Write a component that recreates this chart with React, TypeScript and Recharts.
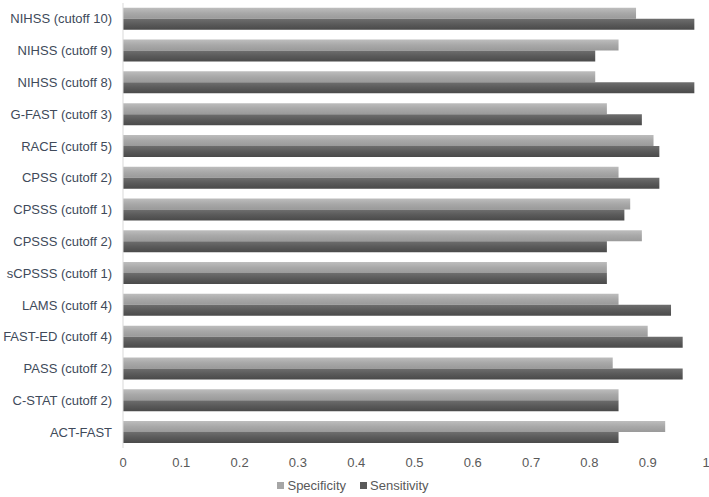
import React from "react";
import { BarChart, Bar, XAxis, YAxis, Legend } from "recharts";

const categories = [
  "NIHSS (cutoff 10)",
  "NIHSS (cutoff 9)",
  "NIHSS (cutoff 8)",
  "G-FAST (cutoff 3)",
  "RACE (cutoff 5)",
  "CPSS (cutoff 2)",
  "CPSSS (cutoff 1)",
  "CPSSS (cutoff 2)",
  "sCPSSS (cutoff 1)",
  "LAMS (cutoff 4)",
  "FAST-ED (cutoff 4)",
  "PASS (cutoff 2)",
  "C-STAT (cutoff 2)",
  "ACT-FAST",
];
const specificity = [0.88, 0.85, 0.81, 0.83, 0.91, 0.85, 0.87, 0.89, 0.83, 0.85, 0.9, 0.84, 0.85, 0.93];
const sensitivity = [0.98, 0.81, 0.98, 0.89, 0.92, 0.92, 0.86, 0.83, 0.83, 0.94, 0.96, 0.96, 0.85, 0.85];
const xTicks = [0, 0.1, 0.2, 0.3, 0.4, 0.5, 0.6, 0.7, 0.8, 0.9, 1];
const seriesNames = ["Specificity", "Sensitivity"];
const seriesColors = ["#a6a6a6", "#595959"];

const data = categories.map((name, i) => ({
  name,
  Specificity: specificity[i],
  Sensitivity: sensitivity[i],
}));

const font = "'Liberation Sans', Arial, sans-serif";

const YTick = (props: any) => {
  const { x, y, payload } = props;
  return (
    <text x={x} y={y} dy="0.35em" textAnchor="end" fill="#404a5a" fontSize={13} fontFamily={font}>
      {payload.value}
    </text>
  );
};

const LegendContent = () => (
  <div style={{ display: "flex", justifyContent: "center", gap: 14, fontSize: 13, fontFamily: font, color: "#595959" }}>
    {seriesNames.map((n, i) => (
      <div key={n} style={{ display: "flex", alignItems: "center" }}>
        <span style={{ display: "inline-block", width: 7, height: 7, background: seriesColors[i], marginRight: 3 }} />
        <span>{n}</span>
      </div>
    ))}
  </div>
);

export default function App() {
  return (
    <div style={{ position: "absolute", left: 0, top: 0, fontFamily: font }}>
      <BarChart
        width={709}
        height={497}
        data={data}
        layout="vertical"
        margin={{ top: 3, right: 3, bottom: 0, left: 0 }}
        barGap={0}
        barCategoryGap="15%"
      >
        <defs>
          <linearGradient id="specGrad" x1="0" y1="0" x2="0" y2="1">
            <stop offset="0%" stopColor="#bdbdbd" />
            <stop offset="50%" stopColor="#a8a8a8" />
            <stop offset="100%" stopColor="#9a9a9a" />
          </linearGradient>
          <linearGradient id="sensGrad" x1="0" y1="0" x2="0" y2="1">
            <stop offset="0%" stopColor="#6e6e6e" />
            <stop offset="50%" stopColor="#5a5a5a" />
            <stop offset="100%" stopColor="#4a4a4a" />
          </linearGradient>
        </defs>
        <XAxis
          type="number"
          domain={[0, 1]}
          ticks={xTicks}
          interval={0}
          axisLine={false}
          tickLine={false}
          tickSize={0}
          tickMargin={10}
          height={34}
          tick={{ fill: "#595959", fontSize: 13, fontFamily: font }}
        />
        <YAxis
          type="category"
          dataKey="name"
          width={123}
          interval={0}
          axisLine={{ stroke: "#d9d9d9" }}
          tickLine={false}
          tickSize={0}
          tickMargin={11}
          tick={<YTick />}
        />
        <Legend
          verticalAlign="bottom"
          align="center"
          content={<LegendContent />}
          wrapperStyle={{ bottom: 4 }}
        />
        <Bar dataKey="Specificity" fill="url(#specGrad)" isAnimationActive={false} />
        <Bar dataKey="Sensitivity" fill="url(#sensGrad)" isAnimationActive={false} />
      </BarChart>
    </div>
  );
}
